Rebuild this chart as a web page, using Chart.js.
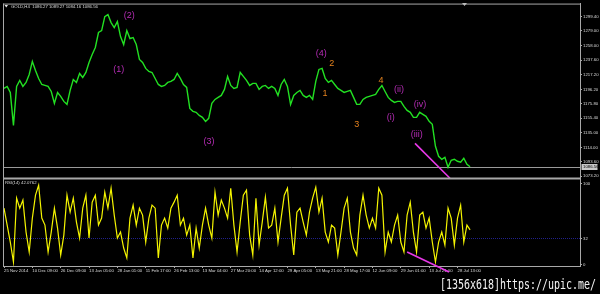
<!DOCTYPE html>
<html><head><meta charset="utf-8">
<script src="https://cdn.jsdelivr.net/npm/chart.js@4/dist/chart.umd.min.js"></script>
<style>
html,body{margin:0;padding:0;background:#000;width:600px;height:294px;overflow:hidden}
canvas{display:block}
</style></head>
<body>
<canvas id="c" width="600" height="294"></canvas>
<script>
// ---- data ----
const timeLabels = ['25 Nov 2014','10 Dec 09:00','26 Dec 09:00','13 Jan 05:00','28 Jan 01:00','11 Feb 17:00','26 Feb 13:00','13 Mar 04:00','27 Mar 20:00','14 Apr 12:00','29 Apr 05:00','13 May 21:00','28 May 17:00','12 Jun 09:00','29 Jun 01:00','13 Jul 21:00','28 Jul 13:00'];
const stepsPerLabel = 9;
const priceTicks = [1299.40,1279.00,1258.00,1237.60,1217.20,1196.20,1175.80,1155.40,1135.00,1114.00,1093.60,1073.20];
const rsiTicks = [100, 32, 0];
const rsiLevel = 32;
const lastClose = 1086.56;
const titleText = 'GOLD,H4  1086.27 1089.27 1084.16 1086.56';
const rsiTitle = 'RSI(14) 42.0762';

const price = [
1197.6,1200.4,1191.9,1145.3,1200.4,1208.9,1200.4,1206.1,1217.4,1235.8,
1223.0,1211.7,1203.2,1201.8,1200.4,1193.3,1176.4,1191.9,1186.3,1179.2,
1175.0,1194.8,1210.3,1206.1,1218.8,1213.1,1220.2,1234.4,1245.7,1255.6,
1276.8,1279.6,1299.4,1302.2,1290.9,1283.8,1292.3,1271.1,1259.8,1279.6,
1268.3,1269.7,1259.8,1238.6,1234.4,1225.9,1221.6,1220.2,1211.7,1203.2,
1200.4,1201.8,1206.1,1207.5,1210.3,1218.8,1211.7,1203.2,1199.0,1169.3,
1165.1,1163.7,1159.4,1156.6,1150.9,1155.2,1176.4,1182.0,1184.9,1187.7,
1196.2,1214.6,1201.8,1197.6,1199.0,1220.2,1214.6,1208.9,1201.8,1204.7,
1204.7,1196.2,1200.4,1201.8,1197.6,1200.4,1197.6,1187.7,1203.2,1210.3,
1200.4,1175.0,1187.7,1191.9,1194.8,1187.7,1184.9,1187.7,1182.0,1207.5,
1224.5,1225.9,1211.7,1206.1,1208.9,1203.2,1197.6,1194.8,1191.9,1193.3,
1194.8,1184.9,1175.0,1175.0,1182.0,1184.9,1186.3,1187.7,1189.1,1196.2,
1201.8,1193.3,1184.9,1180.6,1177.8,1179.2,1179.2,1172.1,1166.5,1163.7,
1156.6,1156.6,1163.7,1160.8,1158.0,1150.9,1146.7,1115.6,1101.4,1097.2,
1100.0,1085.9,1095.8,1097.2,1094.4,1093.0,1098.6,1090.1,1086.6];

const rsi = [
68.9,48.0,27.1,2.5,81.2,68.9,78.8,39.4,14.8,56.6,
84.9,97.2,56.6,48.0,14.8,39.4,68.9,44.3,11.1,35.7,
84.9,64.0,81.2,51.7,32.0,68.9,84.9,32.0,76.3,84.9,
48.0,56.6,88.6,68.9,93.5,60.3,32.0,39.4,19.7,7.4,
56.6,72.6,48.0,68.9,60.3,27.1,56.6,72.6,68.9,7.4,
48.0,56.6,44.3,68.9,76.3,84.9,48.0,56.6,35.7,48.0,
7.4,44.3,19.7,48.0,
68.9,48.0,32.0,88.6,60.3,78.8,68.9,56.6,93.5,48.0,
14.8,51.7,84.9,91.1,35.7,11.1,81.2,23.4,51.7,82.5,
44.3,48.0,68.9,27.1,56.6,84.9,93.5,48.0,11.1,64.0,
68.9,51.7,35.7,64.0,81.2,94.8,64.0,81.2,39.4,27.1,
48.0,44.3,11.1,39.4,68.9,81.2,39.4,19.7,11.1,60.3,
84.9,60.3,44.3,56.6,44.3,93.5,84.9,14.8,39.4,27.1,
48.0,
60.3,27.1,14.8,60.3,76.3,39.4,14.8,60.3,64.0,44.3,
56.6,27.1,2.5,27.1,39.4,23.4,68.9,56.6,23.4,56.6,
72.6,27.1,48.0,42.1];

// divergence lines (time step, value)
const divPriceX = [130.5, 141.6];
const divPriceY = [1119.8, 1070.3];
const divRsiX = [128.0, 141.3];
const divRsiY = [14.8, -9.8];

// Elliott wave labels
const waveText  = ['(2)','(1)','(3)','(4)','2','1','3','4','(ii)','(i)','(iv)','(iii)'];
const waveX     = [39.8, 36.4, 65.1, 100.7, 104.1, 101.9, 112.0, 119.7, 125.4, 122.8, 132.1, 131.1];
const waveY     = [1300.8,1224.5,1121.9,1247.1,1232.5,1190.1,1146.7,1208.9,1195.5,1156.2,1175.0,1132.5];
const waveKind  = ['m','m','m','m','o','o','o','o','m','m','m','m'];

// ---- chart ----
const GRAY = '#a8a8a8';
const TXT = '#dcdcdc';
const FS = 4.3;
const SMALL = {size: FS, family: 'Liberation Sans'};

const deco = {
  id: 'deco',
  beforeDraw(c) {
    const ctx = c.ctx; ctx.save(); ctx.fillStyle = '#000'; ctx.fillRect(0, 0, c.width, c.height); ctx.restore();
  },
  beforeDatasetsDraw(c) {
    const {ctx, chartArea: a} = c; const y = c.scales.y, r = c.scales.yRsi;
    ctx.save();
    ctx.lineWidth = 1;
    const yl = Math.round(r.getPixelForValue(rsiLevel)) + 0.5;
    ctx.strokeStyle = '#20208a'; ctx.setLineDash([1, 1]);
    ctx.beginPath(); ctx.moveTo(a.left, yl); ctx.lineTo(a.right, yl); ctx.stroke();
    ctx.setLineDash([]);
    const yb = Math.round(y.getPixelForValue(lastClose)) + 0.5;
    ctx.strokeStyle = '#9a9a9a';
    ctx.beginPath(); ctx.moveTo(a.left, yb); ctx.lineTo(a.right, yb); ctx.stroke();
    ctx.restore();
  },
  afterDatasetsDraw(c) {
    const {ctx, chartArea: a} = c; const x = c.scales.x, y = c.scales.y, r = c.scales.yRsi;
    ctx.save();
    ctx.fillStyle = GRAY;
    ctx.fillRect(a.left, a.top, a.right - a.left, 1);
    ctx.fillRect(a.left, a.top, 1, a.bottom - a.top);
    ctx.fillRect(a.left, 177.5, a.right - a.left, 2);
    ctx.fillStyle = '#bbbbbb';
    ctx.beginPath(); ctx.moveTo(462, 3); ctx.lineTo(467, 3); ctx.lineTo(464.5, 6); ctx.closePath(); ctx.fill();
    ctx.fillStyle = '#e0e0e0';
    ctx.beginPath(); ctx.moveTo(4.5, 5); ctx.lineTo(8, 5); ctx.lineTo(6.25, 7.5); ctx.closePath(); ctx.fill();
    ctx.font = FS + 'px "Liberation Sans"'; ctx.fillStyle = TXT; ctx.textBaseline = 'middle'; ctx.textAlign = 'left';
    ctx.fillText(titleText, 11, 6.5);
    ctx.fillText(rsiTitle, 5, 182.5);
    ctx.strokeStyle = GRAY; ctx.lineWidth = 1;
    rsiTicks.forEach(v => {
      const py = Math.round(r.getPixelForValue(v)) + 0.5;
      ctx.beginPath(); ctx.moveTo(a.right, py); ctx.lineTo(a.right + 2, py); ctx.stroke();
      ctx.fillText(String(v), a.right + 3, py);
    });
    const yb = Math.round(y.getPixelForValue(lastClose));
    ctx.fillStyle = '#c8c8c8'; ctx.fillRect(a.right + 1.5, yb - 3, 16, 6);
    ctx.fillStyle = '#000'; ctx.fillText(lastClose.toFixed(2), a.right + 3, yb);
    ctx.font = '9px "Liberation Sans"'; ctx.textAlign = 'center';
    waveText.forEach((t, i) => {
      ctx.fillStyle = waveKind[i] === 'm' ? '#b42cb4' : '#e4821e';
      ctx.fillText(t, x.getPixelForValue(waveX[i]), y.getPixelForValue(waveY[i]));
    });
    const wm = '[1356x618]https://upic.me/';
    ctx.font = '14px "DejaVu Sans Mono"'; ctx.textAlign = 'left'; ctx.textBaseline = 'alphabetic';
    const w = ctx.measureText(wm).width;
    ctx.translate(440, 289); ctx.scale(156 / w, 1);
    ctx.lineWidth = 2.5; ctx.strokeStyle = '#000'; ctx.strokeText(wm, 0, 0);
    ctx.fillStyle = '#f4f4f4'; ctx.fillText(wm, 0, 0);
    ctx.restore();
  }
};

new Chart(document.getElementById('c'), {
  type: 'line',
  data: {
    datasets: [
      {label: 'div price', data: divPriceX.map((v, i) => ({x: v, y: divPriceY[i]})), yAxisID: 'y',
       borderColor: '#e838e8', borderWidth: 1.6, pointRadius: 0, clip: false},
      {label: 'div rsi', data: divRsiX.map((v, i) => ({x: v, y: divRsiY[i]})), yAxisID: 'yRsi',
       borderColor: '#e838e8', borderWidth: 1.6, pointRadius: 0, clip: false},
      {label: 'GOLD,H4', data: price.map((v, i) => ({x: i, y: v})), yAxisID: 'y',
       borderColor: '#22e022', borderWidth: 1.4, pointRadius: 0, tension: 0},
      {label: 'RSI', data: rsi.map((v, i) => ({x: i, y: v})), yAxisID: 'yRsi',
       borderColor: '#f4f400', borderWidth: 1.2, pointRadius: 0, tension: 0}
    ]
  },
  options: {
    responsive: false, animation: false, devicePixelRatio: 1,
    layout: {padding: {left: 3, top: 3, right: 0, bottom: 0}},
    plugins: {legend: {display: false}, tooltip: {enabled: false}},
    scales: {
      x: {
        type: 'linear', min: -0.32, max: 182.9,
        afterBuildTicks: ax => { ax.ticks = timeLabels.map((_, k) => ({value: k * stepsPerLabel})); },
        afterFit: ax => { ax.height = 28; },
        ticks: {autoSkip: false, maxRotation: 0, minRotation: 0, align: 'start', padding: 0,
                color: TXT, font: SMALL, callback: (v, i) => timeLabels[i]},
        grid: {drawOnChartArea: false, drawTicks: true, tickLength: 2, color: GRAY},
        border: {display: true, color: GRAY}
      },
      y: {
        type: 'linear', position: 'right', min: 946.0, max: 1317.8,
        afterBuildTicks: ax => { ax.ticks = priceTicks.map(v => ({value: v})); },
        afterFit: ax => { ax.width = 20; },
        ticks: {autoSkip: false, padding: 1, color: TXT, font: SMALL, callback: v => Number(v).toFixed(2)},
        grid: {drawOnChartArea: false, drawTicks: true, tickLength: 2, color: GRAY},
        border: {display: true, color: GRAY}
      },
      yRsi: {type: 'linear', axis: 'y', position: 'right', display: false, min: -2.46, max: 321.23}
    }
  },
  plugins: [deco]
});
</script>
</body></html>
